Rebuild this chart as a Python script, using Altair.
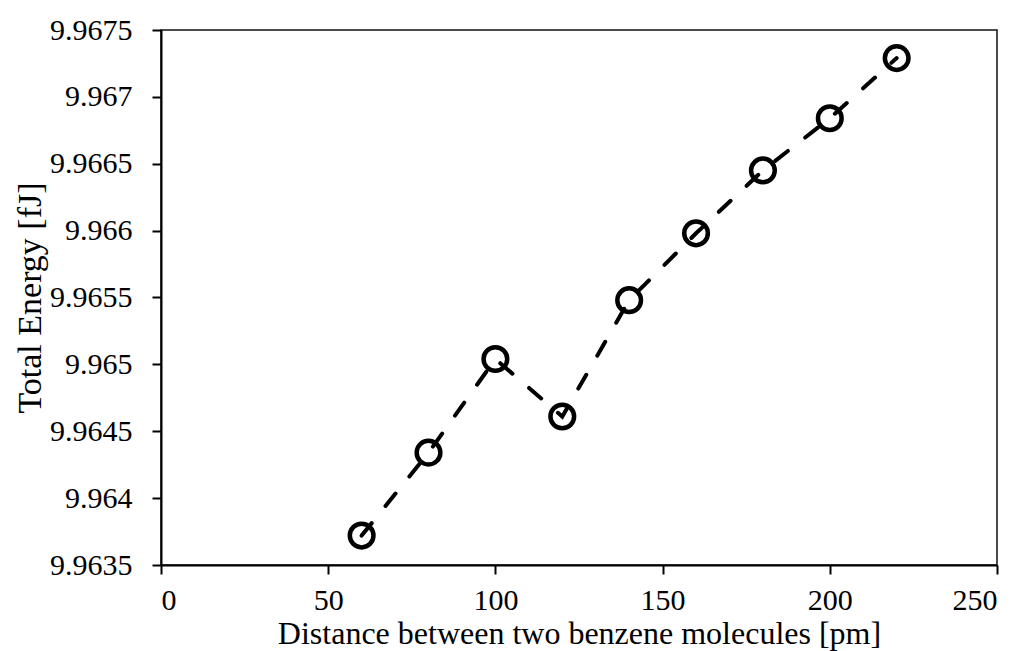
import altair as alt
import pandas as pd

distance = [60, 80, 100, 120, 140, 160, 180, 200, 220]
energy = [9.96372, 9.96434, 9.96504, 9.96461, 9.96548, 9.96598, 9.96645, 9.96684, 9.96729]
x_ticks = [0, 50, 100, 150, 200, 250]
y_ticks = [9.9635, 9.964, 9.9645, 9.965, 9.9655, 9.966, 9.9665, 9.967, 9.9675]

df = pd.DataFrame({"d": distance, "e": energy})

FONT = "Liberation Serif"

x = alt.X("d:Q", scale=alt.Scale(domain=[0, 250], nice=False),
          axis=alt.Axis(values=x_ticks, title="Distance between two  benzene molecules [pm]",
                        labelPadding=11, titlePadding=3, titleFontSize=32))
y = alt.Y("e:Q", scale=alt.Scale(domain=[9.9635, 9.9675], nice=False, zero=False),
          axis=alt.Axis(values=y_ticks, format=".4~f", title="Total Energy [fJ]",
                        labelPadding=20, titlePadding=2, titleFontSize=34))

base = alt.Chart(df)
points = base.mark_point(shape="circle", filled=False, size=560, strokeWidth=4.5,
                         color="black", opacity=1).encode(x=x, y=y)
line = base.mark_line(color="black", strokeWidth=4, strokeDash=[16, 22],
                      strokeCap="round").encode(x=x, y=y)

chart = alt.layer(points, line).properties(
    width=836, height=535,
    padding={"left": 5, "top": 7, "right": 20, "bottom": 5},
).configure(background="white").configure_view(
    stroke="#111111", strokeWidth=1.5
).configure_axis(
    grid=False, labelFont=FONT, titleFont=FONT, labelFontSize=30,
    titleFontWeight="normal", labelColor="black", titleColor="black",
    domainColor="black", domainWidth=2, tickColor="black", tickWidth=2, tickSize=9,
)

chart.save("out.html", embed_options={"renderer": "svg", "actions": False})
